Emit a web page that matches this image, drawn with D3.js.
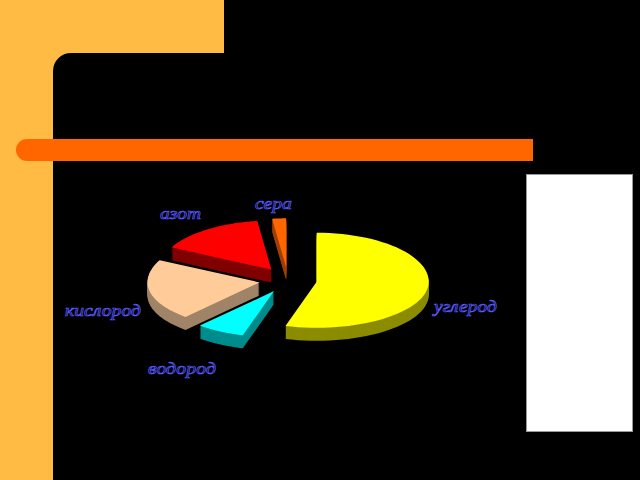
<!DOCTYPE html>
<html><head><meta charset="utf-8">
<script src="https://cdn.jsdelivr.net/npm/d3@7"></script>
<style>html,body{margin:0;padding:0;background:#000;overflow:hidden}
svg{display:block}
.lab{font-family:"Liberation Serif",serif;font-style:italic;font-size:17px;fill:#000;stroke:#5a5aff;stroke-width:.7px}
</style></head><body>
<svg id="c" width="640" height="480"></svg>
<script>
const categories = ["углерод","водород","кислород","азот","сера"];
const values = [54.5, 7, 21, 15.5, 2];
const topColors = ["#ffff00","#00ffff","#ffcc99","#ff0000","#ff6600"];
const sideColors = ["#8c8c00","#008c8c","#a08468","#800000","#a04000"];
const labelPos = [[434,312,63],[148,374,68],[65,316,76],[160,219,41],[255,209,37]];

const svg = d3.select("#c");
svg.append("rect").attr("width",640).attr("height",480).attr("fill","#ffbb44");
svg.append("path").attr("fill","#000").attr("d","M224 0H640V480H53V71A18 18 0 0 1 71 53H224Z");
svg.append("path").attr("fill","#ff6600").attr("d","M533 139V161H27A11 11 0 0 1 27 139Z");
svg.append("rect").attr("x",526.5).attr("y",174.5).attr("width",106).attr("height",257).attr("fill","#fff").attr("stroke","#999").attr("stroke-width",1);

const cx=288, cy=280, rx=112, ryBack=49, ryFront=46, depth=13, explode=29;
const arcs = d3.pie().sort(null).startAngle(0).endAngle(2*Math.PI)(values);
const pt=a=>{const c=Math.cos(a);return [rx*Math.sin(a), -(c>0?ryBack:ryFront)*c];};
const line=d3.line();
const order=[3,4,2,0,1];
const g=svg.append("g");
order.forEach(i=>{
  const d=arcs[i], mid=(d.startAngle+d.endAngle)/2;
  const dx=explode*Math.sin(mid), dy=-explode*(ryBack/rx)*Math.cos(mid);
  const s=g.append("g").attr("transform",`translate(${cx+dx},${cy+dy})`);
  const outer=d3.range(0,61).map(k=>pt(d.startAngle+(d.endAngle-d.startAngle)*k/60));
  const top=[[0,0],...outer];
  d3.range(depth,0,-1).forEach(k=>{
    s.append("path").attr("d",line(top)+"Z").attr("transform",`translate(0,${k})`).attr("fill",sideColors[i]);
  });
  s.append("path").attr("d",line(top)+"Z").attr("fill",topColors[i]);
});
categories.forEach((c,i)=>{
  svg.append("text").attr("class","lab").attr("x",labelPos[i][0]).attr("y",labelPos[i][1])
    .attr("textLength",labelPos[i][2]).attr("lengthAdjust","spacingAndGlyphs").text(c);
});
</script></body></html>
